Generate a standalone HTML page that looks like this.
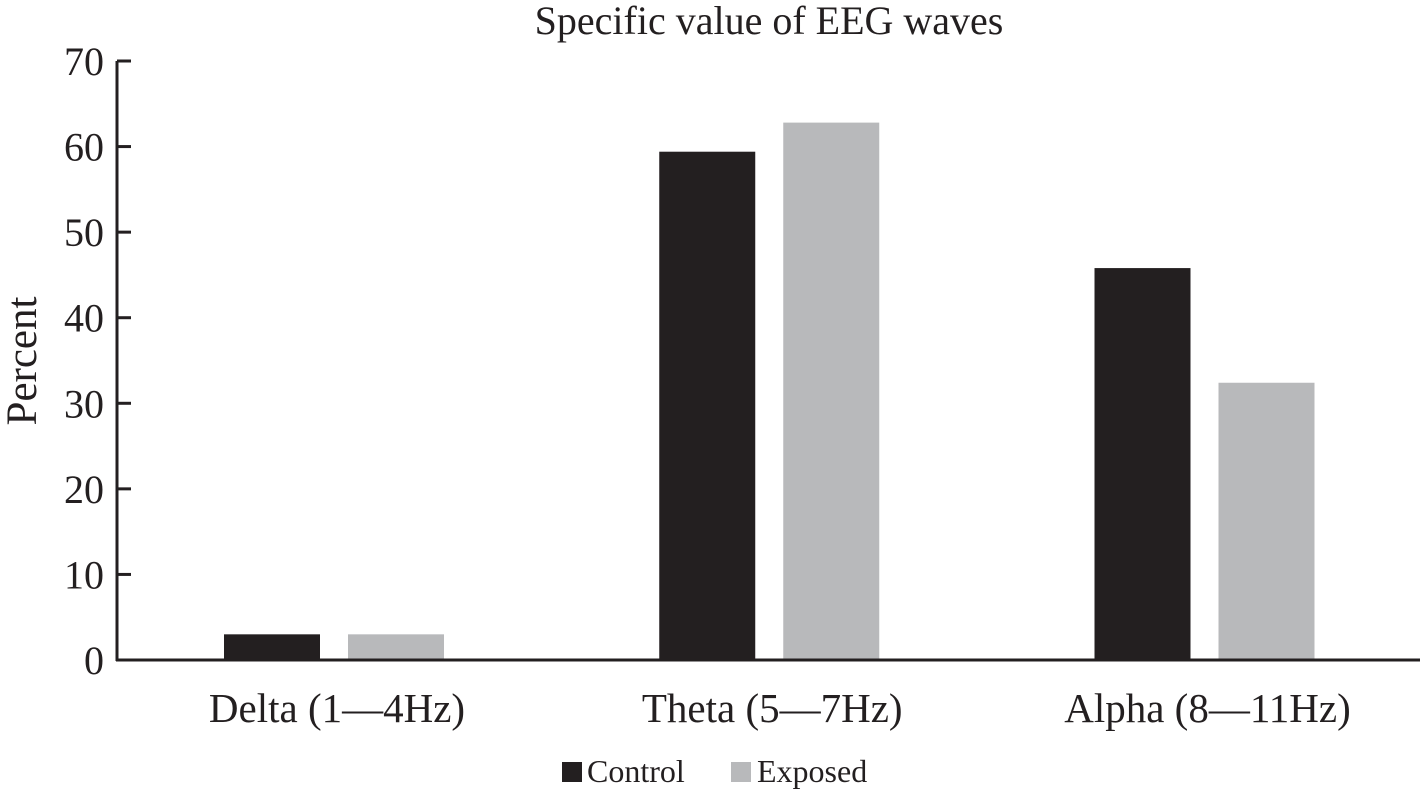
<!DOCTYPE html>
<html><head><meta charset="utf-8"><style>
body{margin:0;background:#fff;}
svg{display:block;font-family:"Liberation Serif",serif;}
</style></head><body>
<svg id="chart" width="1420" height="792">
<text x="769" y="34" text-anchor="middle" font-size="40" fill="#231f20">Specific value of EEG waves</text>
<text transform="translate(36,361) rotate(-90)" text-anchor="middle" font-size="43" fill="#231f20">Percent</text>
<g id="ticks"></g>
<g id="bars"></g>
<line x1="117" y1="61" x2="117" y2="661" stroke="#231f20" stroke-width="3"/>
<line x1="116" y1="660" x2="1420" y2="660" stroke="#231f20" stroke-width="3"/>
<g>
<rect x="562" y="762" width="20" height="20" fill="#231f20"/>
<text x="587" y="782" font-size="32" fill="#231f20">Control</text>
<rect x="731" y="762" width="20" height="20" fill="#b8b9bb"/>
<text x="757" y="782" font-size="32" fill="#231f20">Exposed</text>
</g>
</svg>
<script>
const categories=["Delta (1\u20144Hz)","Theta (5\u20147Hz)","Alpha (8\u201411Hz)"];
const controlValues=[3.0,59.4,45.8];
const exposedValues=[3.0,62.8,32.4];
const yTicks=[0,10,20,30,40,50,60,70];
const NS="http://www.w3.org/2000/svg";
const yBase=660,yTop=61,yMax=70;
const y=v=>yBase-(v/yMax)*(yBase-yTop);
const cx=i=>334+435.25*i;
const bw=96,gap=28;
const tg=document.getElementById('ticks'),bg=document.getElementById('bars');
function mk(t,a,p){const e=document.createElementNS(NS,t);for(const k in a)e.setAttribute(k,a[k]);p.appendChild(e);return e;}
yTicks.forEach(v=>{
 const l=mk('line',{x1:117,x2:131,y1:y(v),y2:y(v),stroke:'#231f20','stroke-width':3},tg);
 
 
 const t=mk('text',{x:104,y:y(v)+14,'text-anchor':'end','font-size':40,fill:'#231f20'},tg);
 t.textContent=v;
 
 
});
categories.forEach((c,i)=>{
 const r1=mk('rect',{x:cx(i)-gap/2-bw,y:y(controlValues[i]),width:bw,height:yBase-y(controlValues[i]),fill:'#231f20'},bg);
 
 
 const r2=mk('rect',{x:cx(i)+gap/2,y:y(exposedValues[i]),width:bw,height:yBase-y(exposedValues[i]),fill:'#b8b9bb'},bg);
 
 
 const t=mk('text',{x:cx(i)+3,y:722,'text-anchor':'middle','font-size':41,fill:'#231f20'},bg);
 t.textContent=c;
 
 
});
</script>
</body></html>
